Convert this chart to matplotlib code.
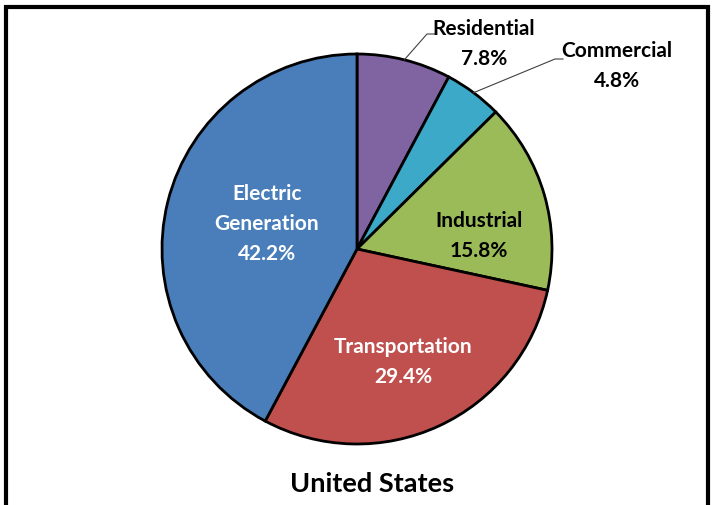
import numpy as np
import matplotlib.pyplot as plt
from matplotlib.patches import Rectangle

# data
sectors = ['Residential', 'Commercial', 'Industrial', 'Transportation',
           'Electric\nGeneration']
shares = [7.8, 4.8, 15.8, 29.4, 42.2]
colors = ['#8064A2', '#3DA9C8', '#9BBB59', '#C0504D', '#4A7EBB']
title = 'United States'

plt.rcParams['font.family'] = ['Lato', 'DejaVu Sans']

W, H = 715, 506
fig = plt.figure(figsize=(W / 100, H / 100), dpi=100)
ax = fig.add_axes([0, 0, 1, 1])

# pixel coords measured from top -> flip
cx, cy, r = 357, H - 250, 195

wedges, _ = ax.pie(shares, colors=colors, startangle=90, counterclock=False,
                   center=(cx, cy), radius=r,
                   wedgeprops=dict(edgecolor='black', linewidth=2))

# pie() resets the limits, so set them afterwards
ax.set_xlim(0, W)
ax.set_ylim(0, H)
ax.set_aspect('equal')
ax.axis('off')

# frame around the figure (bottom edge is cropped off)
ax.add_patch(Rectangle((6, -10), 702, H - 8 + 10, fill=False,
                       edgecolor='black', linewidth=3, clip_on=False))

fs = 15
ls = 1.6
# inside labels
inside = {2: ((479, 236), 'black'),
          3: ((403, 362), 'white'),
          4: ((267, 224), 'white')}
for i, ((x, y), c) in inside.items():
    ax.text(x, H - y, '%s\n%.1f%%' % (sectors[i], shares[i]), ha='center',
            va='center', color=c, fontsize=fs, fontweight='bold',
            linespacing=ls)

# outside labels with leader lines
outside = {0: ((427, 35), (435, 35), (484, 44)),
           1: ((555, 60), (563, 60), (617, 66))}
for i, (knee, end, txt) in outside.items():
    w = wedges[i]
    ang = np.deg2rad((w.theta1 + w.theta2) / 2)
    x0, y0 = cx + r * np.cos(ang), cy + r * np.sin(ang)
    ax.plot([x0, knee[0], end[0]], [y0, H - knee[1], H - end[1]],
            color='#404040', linewidth=0.8)
    ax.text(txt[0], H - txt[1], '%s\n%.1f%%' % (sectors[i], shares[i]),
            ha='center', va='center', color='black', fontsize=fs,
            fontweight='bold', linespacing=ls)

ax.text(372, H - 484, title, ha='center', va='center', fontsize=19.5,
        fontweight='bold')

plt.savefig('out.png', dpi=100)
